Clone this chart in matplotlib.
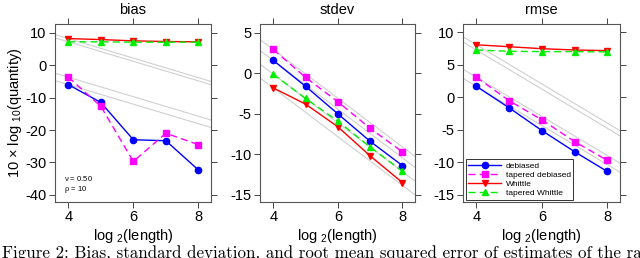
import numpy as np
import matplotlib
matplotlib.use("Agg")
import matplotlib.pyplot as plt

plt.rcParams['font.family'] = ['Liberation Sans', 'DejaVu Sans']
plt.rcParams['mathtext.default'] = 'regular'
plt.rcParams['axes.unicode_minus'] = False

# ---------------- DATA ----------------
log2_length = [4, 5, 6, 7, 8]
series_names = ['debiased', 'tapered debiased', 'Whittle', 'tapered Whittle']

bias_debiased = [-6.0, -11.5, -23.0, -23.3, -32.3]
bias_tap_debiased = [-3.7, -12.7, -29.7, -21.0, -24.5]
bias_whittle = [8.2, 7.9, 7.5, 7.3, 7.2]
bias_tap_whittle = [7.2, 7.2, 7.1, 7.1, 7.1]

sd_debiased = [1.6, -1.6, -5.0, -8.4, -11.4]
sd_tap_debiased = [2.95, -0.5, -3.5, -6.8, -9.7]
sd_whittle = [-1.8, -3.8, -6.6, -10.2, -13.5]
sd_tap_whittle = [-0.1, -3.1, -5.9, -9.1, -12.1]

rmse_debiased = [1.7, -1.6, -5.1, -8.35, -11.4]
rmse_tap_debiased = [3.1, -0.5, -3.45, -6.8, -9.7]
rmse_whittle = [8.1, 7.8, 7.5, 7.3, 7.2]
rmse_tap_whittle = [7.3, 7.1, 7.05, 7.05, 7.0]

# ---------------- STYLE ----------------
styles = [
    dict(color='#0000ff', marker='o', ls='-'),
    dict(color='#ff00ff', marker='s', ls=(0, (5, 3))),
    dict(color='#ff0000', marker='v', ls='-'),
    dict(color='#00ee00', marker='^', ls=(0, (5, 3))),
]

panels = [
    ('bias', [bias_debiased, bias_tap_debiased, bias_whittle, bias_tap_whittle],
     (-42.2, 12.7), [10, 0, -10, -20, -30, -40]),
    ('stdev', [sd_debiased, sd_tap_debiased, sd_whittle, sd_tap_whittle],
     (-15.9, 6.1), [5, 0, -5, -10, -15]),
    ('rmse', [rmse_debiased, rmse_tap_debiased, rmse_whittle, rmse_tap_whittle],
     (-16.1, 11.3), [10, 5, 0, -5, -10, -15]),
]

W, H = 640, 258
fig = plt.figure(figsize=(6.4, 2.58), dpi=100)
boxes = [(55, 211), (260, 415), (463, 620)]
top, bottom = 24, 202

slope = -10 * np.log10(2)   # reference rate, 1/length per doubling
xref = np.array([3.0, 9.0])

for (title, ys, ylim, yticks), (x0, x1) in zip(panels, boxes):
    ax = fig.add_axes([x0 / W, 1 - bottom / H, (x1 - x0) / W, (bottom - top) / H])
    # grey reference lines anchored at the first point of each series
    for y in ys:
        ax.plot(xref, y[0] + slope * (xref - log2_length[0]), color='#d0d0d0', lw=0.8, zorder=1)
    for y, st, name in zip(ys, styles, series_names):
        ax.plot(log2_length, y, color=st['color'], ls=st['ls'], lw=1.0,
                marker=st['marker'], ms=4.5, mec=st['color'], label=name, zorder=3)
    ax.set_xlim(3.59, 8.39)
    ax.set_ylim(*ylim)
    ax.set_xticks([4, 6, 8])
    ax.set_yticks(yticks)
    ax.tick_params(direction='out', top=True, right=True, labelsize=10.5,
                   length=4, width=0.7, color='#444444', pad=2)
    for sp in ax.spines.values():
        sp.set_color('#555555')
        sp.set_linewidth(0.8)
    ax.set_title(title, fontsize=10.5, pad=7)
    ax.set_xlabel('log $_2$(length)', fontsize=10.5, labelpad=2)
    if title == 'bias':
        ax.set_ylabel(r'10 $\times$ log $_{10}$(quantity)', fontsize=10.5, labelpad=1)
        ax.text(0.06, 0.12, r'$\nu$ = 0.50', transform=ax.transAxes, fontsize=5.5)
        ax.text(0.06, 0.06, r'$\rho$ = 10', transform=ax.transAxes, fontsize=5.5)
    if title == 'rmse':
        leg = ax.legend(loc='lower left', fontsize=6, frameon=True, fancybox=False,
                        handlelength=4, borderpad=0.3, labelspacing=0.15,
                        borderaxespad=0.3, handletextpad=0.5)
        leg.get_frame().set_edgecolor('black')
        leg.get_frame().set_linewidth(0.7)

fig.text(0.003, 1 - 246 / H,
         'Figure 2: Bias, standard deviation, and root mean squared error of estimates of the range',
         fontsize=12.2, family='cmr10', va='top', ha='left')

fig.savefig('out.png', dpi=100)
